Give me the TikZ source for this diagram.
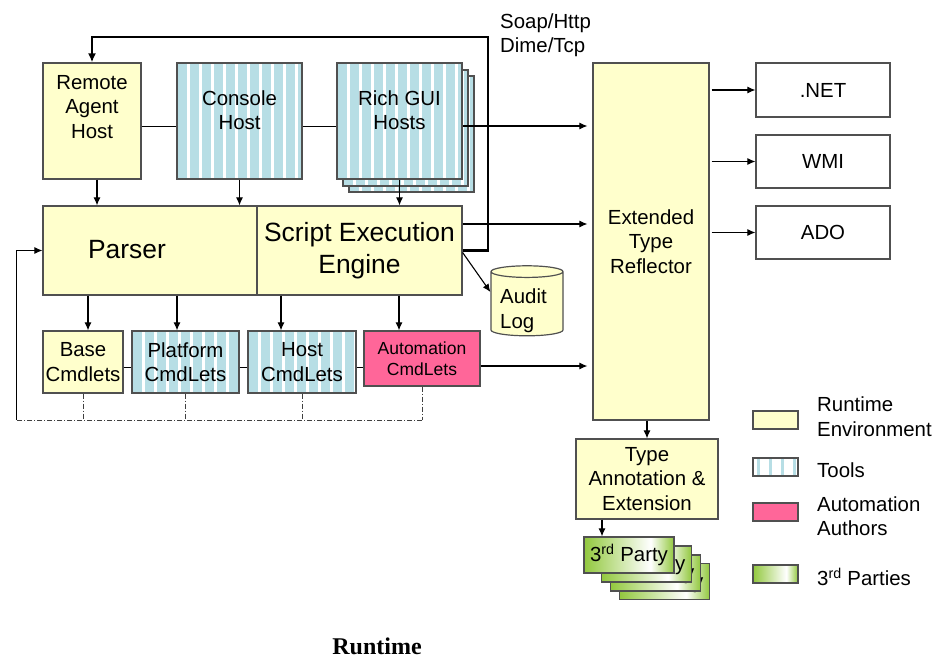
\documentclass[tikz,border=0pt]{standalone}
\usepackage{fontspec}
\setmainfont{Liberation Sans}
\newfontfamily\capserif{Liberation Serif}
\usetikzlibrary{arrows.meta,shapes.geometric}

\definecolor{rtyellow}{HTML}{FFFFCC}
\definecolor{tlblue}{HTML}{B7DEE5}
\definecolor{atpink}{HTML}{FF6699}
\definecolor{ptgreen}{HTML}{92C83E}
\definecolor{edgegray}{HTML}{505050}
\pgfdeclarehorizontalshading{partyshade}{100bp}{color(0bp)=(ptgreen); color(25bp)=(ptgreen); color(62bp)=(white); color(75bp)=(ptgreen); color(100bp)=(ptgreen)}
\newcommand{\boxfont}{\fontsize{20.4}{24.5}\selectfont}

\begin{document}
\begin{tikzpicture}[x=1pt,y=-1pt]
	\tikzset{box/.style={draw=edgegray, line width=1.2pt, fill=rtyellow, inner sep=0pt, align=center, font=\boxfont},
		tools/.style={box, fill=tlblue, path picture={\foreach \k in {0,...,10} \fill[white] ([xshift=10pt+\k*12pt]path picture bounding box.south west) rectangle ++(2.5pt,200pt);}},
		toolkey/.style={box, fill=white, path picture={\foreach \k in {0,...,3} \fill[tlblue] ([xshift=4pt+\k*12pt]path picture bounding box.south west) rectangle ++(3pt,40pt);}},
		party/.style={box, shade, shading=partyshade, minimum width=90, minimum height=36},
		txt/.style={align=center, inner sep=0pt, font=\boxfont},
		arr/.style={-{Latex[length=8pt,width=7pt]}, line width=1.1pt},
		fbline/.style={line width=0.9pt, draw=black!75, dash pattern=on 5pt off 2pt on 1pt off 2pt}};
	\useasboundingbox (0,0) rectangle (936,658);

	\node[box, minimum width=98, minimum height=116] (remote) at (92,121) {};
	\node[txt] (remotetxt) at (92,107) {Remote\\Agent\\Host};
	\node[tools, minimum width=125, minimum height=116] (console) at (239.5,121) {};
	\node[txt] (consoletxt) at (239.5,110) {Console\\Host};
	\node[tools, minimum width=125, minimum height=116] (rich3) at (411.5,134) {};
	\node[tools, minimum width=125, minimum height=116] (rich2) at (405.5,128) {};
	\node[tools, minimum width=125, minimum height=116] (rich) at (399.5,121) {};
	\node[txt] (richtxt) at (399.5,110) {Rich GUI\\Hosts};

	\node[box, minimum width=214, minimum height=89] (parser) at (150,250.5) {};
	\node[txt, font=\fontsize{26.4}{32}\selectfont] (parsertxt) at (127,250) {Parser};
	\node[box, minimum width=205, minimum height=89, font=\fontsize{26.4}{32}\selectfont] (script) at (359.5,250.5) {Script Execution\\Engine};

	\node[box, minimum width=80, minimum height=62] (base) at (83,362) {Base\\Cmdlets};
	\node[tools, minimum width=107, minimum height=62] (platform) at (185.5,362) {Platform\\CmdLets};
	\node[tools, minimum width=108, minimum height=62] (hostcmd) at (302,362) {Host\\CmdLets};
	\node[box, fill=atpink, minimum width=116, minimum height=55, font=\fontsize{17.5}{21}\selectfont] (auto) at (422,358.5) {Automation\\CmdLets};

	\node[box, cylinder, shape border rotate=90, aspect=0.25, minimum width=72, minimum height=70] (audit) at (527,304) {\phantom{Audit}\\\phantom{Log}};
	\node[txt, align=left, anchor=west] (audittxt) at (500,310.5) {Audit\\Log};

	\node[box, minimum width=116, minimum height=357] (etr) at (651,241.5) {Extended\\Type\\Reflector};
	\node[box, fill=white, minimum width=134, minimum height=54] (dotnet) at (823,90) {.NET};
	\node[box, fill=white, minimum width=134, minimum height=53] (wmi) at (823,161.5) {WMI};
	\node[box, fill=white, minimum width=134, minimum height=53] (ado) at (823,232.5) {ADO};
	\node[box, minimum width=142, minimum height=80] (tae) at (647,479) {Type\\Annotation \&\\Extension};

	\node[party] (party4) at (664.5,581.5) {3\textsuperscript{rd} Party};
	\node[party] (party3) at (655.5,573) {3\textsuperscript{rd} Party};
	\node[party] (party2) at (646.5,564) {3\textsuperscript{rd} Party};
	\node[party] (party1) at (629,555) {3\textsuperscript{rd} Party};

	\draw[line width=1pt] ([yshift=-5]remote.east) coordinate (r1) -- (console.west |- r1);
	\draw[line width=1pt] ([yshift=-5]console.east) coordinate (c1) -- (rich.west |- c1);
	\draw[line width=1pt] ([yshift=-5]base.east) coordinate (b1) -- (platform.west |- b1);
	\draw[line width=1pt] ([yshift=-5]platform.east) coordinate (p1) -- (hostcmd.west |- p1);
	\draw[line width=1pt] ([yshift=-5]hostcmd.east) coordinate (h1) -- (auto.west |- h1);

	\coordinate (rmout) at ([xshift=5]remote.south);
	\draw[arr] (rmout) -- (parser.north -| rmout);
	\draw[arr] (console.south) -- (parser.north -| console.south);
	\draw[arr] (rich.south) -- (script.north -| rich.south);

	\coordinate (basein) at ([xshift=5]base.north);
	\coordinate (platin) at ([xshift=-8.5]platform.north);
	\coordinate (hostin) at ([xshift=-21]hostcmd.north);
	\coordinate (autoin) at ([xshift=-23]auto.north);
	\foreach \c in {basein,platin,hostin,autoin} \draw[arr] (parser.south -| \c) -- (\c);

	\draw[arr, shorten >=5pt] ([yshift=-5]rich.east) coordinate (richout) -- (etr.west |- richout);
	\draw[arr, shorten >=5pt] ([yshift=26.5]script.east) coordinate (scriptout) -- (etr.west |- scriptout);
	\draw[arr, shorten >=5pt] ([yshift=-7.5]auto.east) coordinate (autoout) -- (etr.west |- autoout);
	\draw[arr] ([yshift=-2]script.east) -- ([yshift=12]audit.west);

	\foreach \n in {dotnet,wmi,ado} \draw[arr, shorten <=2pt] (etr.east |- \n) -- (\n);
	\draw[arr] (etr.south -| tae.north) -- (tae.north);
	\coordinate (partyin) at ([xshift=-27]party1.north);
	\draw[arr] (tae.south -| partyin) -- (partyin);

	\coordinate (soapturn) at (488,37);
	\draw[-{Latex[length=9pt,width=8pt]}, line width=2.6pt] (script.east) -| (soapturn) -| (remote.north);
	\node[txt, align=left, anchor=west] (soap) at (500,35) {Soap/Http\\Dime/Tcp};

	\coordinate (fbcorner) at (16,420);
	\foreach \n in {base,platform,hostcmd,auto} \draw[fbline] (\n.south) -- (\n.south |- fbcorner);
	\draw[fbline] (auto.south |- fbcorner) -- (fbcorner);
	\draw[arr, line width=0.9pt] (fbcorner) |- (parser.west);

	\node[box, minimum width=45, minimum height=18] (keyrt) at (775.5,420) {};
	\node[toolkey, minimum width=45, minimum height=18] (keytools) at (775.5,467) {};
	\node[box, fill=atpink, minimum width=45, minimum height=18] (keyauto) at (775.5,512) {};
	\node[box, shade, shading=partyshade, minimum width=45, minimum height=18] (keyparty) at (775.5,574) {};
	\node[txt, align=left, anchor=west] (keyrttxt) at (817,416.5) {Runtime\\Environment};
	\node[txt, align=left, anchor=west] (keytoolstxt) at (817,470) {Tools};
	\node[txt, align=left, anchor=west] (keyautotxt) at (817,516) {Automation\\Authors};
	\node[txt, align=left, anchor=west] (keypartytxt) at (817,577) {3\textsuperscript{rd} Parties};

	\node[font=\capserif\bfseries\fontsize{24}{28}\selectfont, inner sep=0pt] (caption) at (377,646) {Runtime};
\end{tikzpicture}
\end{document}
